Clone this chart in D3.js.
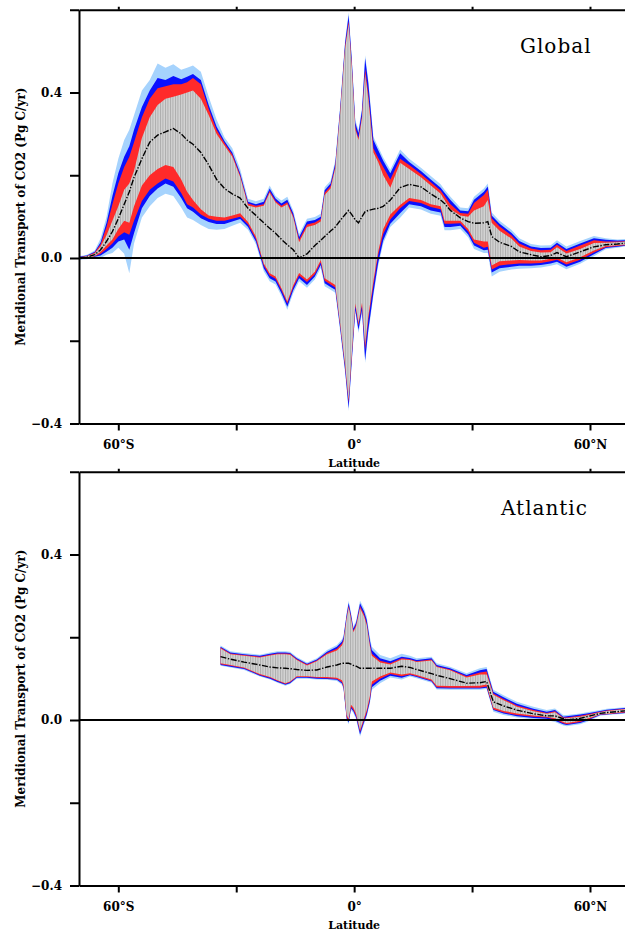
<!DOCTYPE html>
<html>
<head>
<meta charset="utf-8">
<script src="https://cdn.jsdelivr.net/npm/d3@7"></script>
<style>
  body { margin: 0; background: #fff; }
  svg { display: block; }
</style>
</head>
<body>
<svg id="chart" width="625" height="931"></svg>
<script>
// Meridional transport of CO2 (Pg C/yr) against latitude.
// Each panel: nested uncertainty envelopes (sky > blue > red > grey) and the ensemble mean.

// ---------- Global ----------
const globalLat = [-70,-68,-66,-64.5,-63,-61.5,-60,-58.5,-57.2,-56,
  -54,-52,-50,-48,-46,-44,-42.5,-41,-39,-37,
  -35,-33,-31,-29,-27,-25,-23,-21.5,-20,-18.5,
  -17,-15.5,-14,-12,-10,-8.5,-7.5,-6,-4.8,-3.6,
  -2.3,-1.4,-0.6,0.3,1.1,2.0,2.8,3.6,4.9,6.1,
  7.4,9.2,11.7,14,17,19.5,22,23,24.5,27,
  29,30.5,33,34,35,37,40,42,45,47.5,
  50,51.6,54,57.5,61,64,67,70];
const globalMean = [0,0.002,0.008,0.02,0.04,0.064,0.095,0.13,0.16,0.195,
  0.24,0.28,0.297,0.305,0.313,0.3,0.285,0.275,0.255,0.225,
  0.19,0.168,0.155,0.145,0.12,0.103,0.085,0.072,0.06,0.045,
  0.032,0.02,0.0,0.01,0.03,0.043,0.052,0.065,0.075,0.09,
  0.105,0.115,0.105,0.092,0.085,0.1,0.112,0.115,0.118,0.12,
  0.125,0.14,0.17,0.178,0.172,0.155,0.14,0.132,0.115,0.097,
  0.088,0.084,0.085,0.088,0.052,0.038,0.028,0.015,0.008,0.003,
  0.006,0.013,0.003,0.015,0.027,0.032,0.034,0.037];
const globalSkyHi = [0.004,0.008,0.018,0.048,0.1,0.18,0.24,0.285,0.31,0.345,
  0.405,0.43,0.47,0.46,0.468,0.455,0.46,0.465,0.45,0.39,
  0.335,0.292,0.265,0.215,0.143,0.137,0.143,0.175,0.15,0.139,
  0.148,0.115,0.058,0.095,0.099,0.107,0.171,0.187,0.236,0.364,
  0.527,0.594,0.485,0.333,0.31,0.364,0.49,0.43,0.293,0.269,
  0.243,0.213,0.262,0.24,0.218,0.198,0.178,0.165,0.148,0.122,
  0.12,0.148,0.168,0.18,0.11,0.09,0.068,0.048,0.034,0.03,
  0.031,0.043,0.028,0.041,0.053,0.048,0.045,0.046];
const globalBlueHi = [0.003,0.006,0.015,0.038,0.085,0.15,0.205,0.245,0.27,0.31,
  0.365,0.405,0.435,0.43,0.44,0.432,0.438,0.445,0.43,0.37,
  0.318,0.283,0.255,0.205,0.136,0.13,0.136,0.168,0.144,0.132,
  0.141,0.108,0.051,0.088,0.092,0.1,0.164,0.18,0.229,0.357,
  0.52,0.587,0.478,0.326,0.302,0.357,0.483,0.423,0.285,0.261,
  0.235,0.205,0.253,0.232,0.21,0.19,0.17,0.158,0.14,0.115,
  0.113,0.141,0.16,0.173,0.103,0.083,0.061,0.041,0.028,0.024,
  0.025,0.037,0.022,0.035,0.048,0.044,0.042,0.043];
const globalRedHi = [0.002,0.005,0.013,0.033,0.075,0.13,0.18,0.22,0.245,0.28,
  0.34,0.385,0.41,0.415,0.42,0.42,0.425,0.435,0.42,0.36,
  0.31,0.278,0.25,0.2,0.132,0.126,0.13,0.162,0.138,0.126,
  0.135,0.102,0.044,0.081,0.086,0.094,0.158,0.174,0.222,0.35,
  0.512,0.572,0.467,0.316,0.29,0.345,0.457,0.397,0.265,0.242,
  0.22,0.19,0.24,0.225,0.203,0.183,0.163,0.15,0.13,0.109,
  0.107,0.133,0.152,0.165,0.096,0.076,0.055,0.035,0.023,0.019,
  0.02,0.032,0.017,0.03,0.043,0.04,0.04,0.041];
const globalGrayHi = [0.001,0.004,0.011,0.028,0.055,0.09,0.125,0.165,0.18,0.21,
  0.29,0.34,0.37,0.385,0.39,0.395,0.4,0.405,0.385,0.345,
  0.3,0.272,0.245,0.196,0.127,0.122,0.126,0.158,0.134,0.122,
  0.13,0.098,0.038,0.075,0.08,0.088,0.152,0.168,0.217,0.345,
  0.505,0.565,0.46,0.31,0.285,0.338,0.445,0.385,0.255,0.232,
  0.2,0.17,0.23,0.215,0.195,0.175,0.155,0.14,0.118,0.103,
  0.1,0.115,0.125,0.14,0.085,0.066,0.047,0.028,0.017,0.013,
  0.014,0.026,0.011,0.022,0.036,0.037,0.038,0.04];
const globalGrayLo = [-0.001,0.0,0.005,0.015,0.03,0.045,0.07,0.09,0.085,0.125,
  0.175,0.2,0.215,0.225,0.22,0.19,0.16,0.14,0.118,0.103,
  0.1,0.098,0.103,0.108,0.087,0.052,-0.013,-0.037,-0.045,-0.073,
  -0.105,-0.066,-0.036,-0.052,-0.033,-0.005,-0.049,-0.058,-0.065,-0.155,
  -0.256,-0.342,-0.23,-0.11,-0.157,-0.108,-0.21,-0.14,-0.055,0.015,
  0.07,0.105,0.128,0.145,0.14,0.13,0.125,0.09,0.09,0.09,
  0.07,0.045,0.04,0.04,-0.018,-0.008,-0.006,-0.005,-0.006,-0.006,
  -0.002,0.001,-0.01,0.002,0.018,0.029,0.031,0.034];
const globalRedLo = [-0.002,-0.001,0.004,0.01,0.022,0.035,0.052,0.062,0.056,0.09,
  0.138,0.165,0.18,0.192,0.185,0.157,0.13,0.122,0.105,0.095,
  0.09,0.09,0.095,0.1,0.081,0.046,-0.018,-0.042,-0.05,-0.078,
  -0.11,-0.071,-0.042,-0.058,-0.039,-0.011,-0.055,-0.064,-0.071,-0.16,
  -0.263,-0.35,-0.237,-0.116,-0.163,-0.115,-0.222,-0.15,-0.065,0.006,
  0.058,0.093,0.12,0.138,0.133,0.123,0.118,0.083,0.083,0.084,
  0.064,0.037,0.025,0.027,-0.028,-0.018,-0.015,-0.013,-0.013,-0.012,
  -0.008,-0.004,-0.016,-0.004,0.013,0.026,0.029,0.032];
const globalBlueLo = [-0.003,-0.002,0.003,0.006,0.015,0.025,0.04,0.045,0.02,0.06,
  0.12,0.15,0.168,0.18,0.172,0.145,0.12,0.112,0.096,0.087,
  0.082,0.082,0.088,0.094,0.075,0.04,-0.025,-0.049,-0.057,-0.085,
  -0.118,-0.078,-0.049,-0.065,-0.045,-0.017,-0.061,-0.07,-0.077,-0.167,
  -0.271,-0.363,-0.247,-0.126,-0.174,-0.126,-0.247,-0.174,-0.085,-0.012,
  0.043,0.083,0.108,0.13,0.125,0.115,0.11,0.075,0.075,0.078,
  0.057,0.03,0.019,0.02,-0.035,-0.025,-0.021,-0.019,-0.019,-0.017,
  -0.013,-0.009,-0.021,-0.009,0.009,0.024,0.027,0.031];
const globalSkyLo = [-0.004,-0.003,0.001,0.0,0.008,0.012,0.025,0.01,-0.037,0.035,
  0.098,0.125,0.145,0.155,0.15,0.122,0.098,0.092,0.08,0.07,
  0.068,0.07,0.078,0.085,0.068,0.033,-0.032,-0.056,-0.064,-0.092,
  -0.125,-0.085,-0.056,-0.072,-0.052,-0.024,-0.068,-0.077,-0.084,-0.174,
  -0.278,-0.37,-0.254,-0.133,-0.181,-0.133,-0.254,-0.181,-0.092,-0.02,
  0.035,0.075,0.097,0.122,0.117,0.107,0.102,0.067,0.067,0.07,
  0.05,0.022,0.012,0.012,-0.045,-0.033,-0.028,-0.026,-0.025,-0.023,
  -0.019,-0.015,-0.027,-0.014,0.004,0.021,0.025,0.029];

// ---------- Atlantic ----------
const atlLat = [-34,-31.5,-28,-24,-21.4,-19.5,-17.5,-16.3,-14.6,-12,
  -9.5,-6.9,-4.4,-3.1,-2.7,-1.9,-1.4,-0.8,-0.2,0.5,
  1.5,2.5,3.2,4.0,4.5,6.6,9.2,12.1,14.2,15.9,
  19.7,21,24.4,28.6,32,33.7,35.4,38,41.4,45.6,
  49,51.1,53.2,54.1,57.5,59.2,62.6,64.3,68.9,70];
const atlMean = [0.153,0.147,0.14,0.133,0.128,0.126,0.125,0.124,0.122,0.12,
  0.121,0.128,0.133,0.137,0.137,0.137,0.137,0.135,0.132,0.13,
  0.125,0.125,0.125,0.125,0.125,0.125,0.125,0.13,0.127,0.122,
  0.112,0.108,0.1,0.089,0.09,0.093,0.044,0.034,0.024,0.015,
  0.01,0.01,0.003,0.0,0.004,0.008,0.016,0.018,0.022,0.023];
const atlSkyHi = [0.18,0.166,0.162,0.158,0.163,0.166,0.166,0.165,0.152,0.139,
  0.149,0.169,0.181,0.195,0.205,0.26,0.288,0.26,0.226,0.24,
  0.288,0.27,0.25,0.2,0.177,0.157,0.149,0.16,0.155,0.149,
  0.153,0.137,0.129,0.113,0.125,0.128,0.073,0.06,0.044,0.032,
  0.024,0.028,0.012,0.012,0.016,0.019,0.024,0.027,0.031,0.032];
const atlBlueHi = [0.177,0.163,0.159,0.155,0.16,0.163,0.163,0.162,0.149,0.136,
  0.146,0.165,0.177,0.19,0.2,0.255,0.283,0.255,0.221,0.235,
  0.282,0.263,0.242,0.192,0.169,0.149,0.142,0.153,0.15,0.145,
  0.149,0.133,0.125,0.109,0.12,0.123,0.068,0.055,0.039,0.027,
  0.02,0.024,0.008,0.009,0.013,0.016,0.022,0.025,0.029,0.03];
const atlRedHi = [0.175,0.161,0.157,0.153,0.158,0.161,0.161,0.16,0.147,0.134,
  0.144,0.162,0.172,0.185,0.194,0.249,0.276,0.249,0.216,0.23,
  0.275,0.256,0.234,0.183,0.16,0.143,0.137,0.149,0.147,0.142,
  0.146,0.13,0.122,0.106,0.115,0.117,0.064,0.051,0.035,0.024,
  0.017,0.021,0.006,0.006,0.01,0.013,0.02,0.023,0.027,0.028];
const atlGrayHi = [0.173,0.159,0.155,0.151,0.156,0.159,0.159,0.158,0.145,0.132,
  0.142,0.159,0.168,0.18,0.19,0.245,0.272,0.245,0.212,0.226,
  0.27,0.251,0.229,0.178,0.155,0.139,0.134,0.146,0.145,0.14,
  0.144,0.128,0.12,0.103,0.11,0.11,0.061,0.048,0.032,0.021,
  0.015,0.019,0.004,0.004,0.008,0.011,0.019,0.022,0.026,0.027];
const atlGrayLo = [0.137,0.133,0.127,0.111,0.104,0.096,0.089,0.093,0.106,0.106,
  0.104,0.104,0.102,0.096,0.085,0.012,0.003,0.037,0.03,0.015,
  -0.024,0.004,0.024,0.058,0.093,0.105,0.115,0.11,0.113,0.109,
  0.098,0.083,0.082,0.082,0.083,0.086,0.03,0.022,0.016,0.011,
  0.008,0.004,-0.005,-0.007,-0.002,0.003,0.014,0.015,0.02,0.021];
const atlRedLo = [0.135,0.131,0.125,0.109,0.102,0.094,0.087,0.091,0.104,0.104,
  0.102,0.101,0.099,0.091,0.08,0.007,-0.002,0.032,0.025,0.01,
  -0.029,-0.001,0.018,0.05,0.085,0.1,0.111,0.106,0.11,0.106,
  0.095,0.079,0.078,0.078,0.078,0.081,0.026,0.018,0.012,0.008,
  0.006,0.001,-0.008,-0.01,-0.005,0.0,0.013,0.014,0.018,0.019];
const atlBlueLo = [0.133,0.129,0.123,0.107,0.1,0.092,0.085,0.089,0.102,0.102,
  0.1,0.099,0.097,0.088,0.077,0.003,-0.006,0.028,0.021,0.006,
  -0.035,-0.006,0.012,0.045,0.079,0.095,0.107,0.102,0.108,0.104,
  0.093,0.077,0.076,0.076,0.076,0.078,0.024,0.016,0.009,0.005,
  0.003,-0.002,-0.01,-0.012,-0.007,-0.002,0.012,0.013,0.017,0.018];
const atlSkyLo = [0.131,0.127,0.121,0.105,0.098,0.09,0.083,0.087,0.1,0.1,
  0.098,0.097,0.094,0.085,0.073,0.0,-0.01,0.024,0.017,0.002,
  -0.04,-0.01,0.008,0.04,0.073,0.089,0.103,0.098,0.105,0.101,
  0.09,0.074,0.073,0.073,0.073,0.075,0.02,0.012,0.006,0.002,
  0.0,-0.005,-0.013,-0.015,-0.01,-0.005,0.01,0.012,0.015,0.016];

// ---------- Axes ----------
const latTicks = [-60, -30, 0, 30, 60];
const latTickLabels = ["60°S", "", "0°", "", "60°N"];
const valueTicks = [-0.4, -0.2, 0, 0.2, 0.4, 0.6];
const valueTickLabels = ["−0.4", "", "0.0", "", "0.4", ""];

const COLORS = { sky: "#a6d3fd", blue: "#0a10ff", red: "#ff2a2a" };
const FONT = "'DejaVu Serif', serif";

const svg = d3.select("#chart");
const defs = svg.append("defs");

// grey fill with fine vertical hatching
const hatch = defs.append("pattern")
  .attr("id", "hatch").attr("patternUnits", "userSpaceOnUse")
  .attr("width", 2.5).attr("height", 10);
hatch.append("rect").attr("width", 2.5).attr("height", 10).attr("fill", "#d2d2d2");
hatch.append("rect").attr("width", 0.9).attr("height", 10).attr("fill", "#ababab");

const x = d3.scaleLinear().domain([-70, 70]).range([79, 629.3]);

const panels = [
  { id: "g", title: "Global", top: 9.75, bottom: 423.5, titleX: 520,
    lat: globalLat, mean: globalMean,
    skyHi: globalSkyHi, blueHi: globalBlueHi, redHi: globalRedHi, grayHi: globalGrayHi,
    grayLo: globalGrayLo, redLo: globalRedLo, blueLo: globalBlueLo, skyLo: globalSkyLo },
  { id: "a", title: "Atlantic", top: 471.75, bottom: 885.5, titleX: 501,
    lat: atlLat, mean: atlMean,
    skyHi: atlSkyHi, blueHi: atlBlueHi, redHi: atlRedHi, grayHi: atlGrayHi,
    grayLo: atlGrayLo, redLo: atlRedLo, blueLo: atlBlueLo, skyLo: atlSkyLo }
];

panels.forEach(p => {
  const y = d3.scaleLinear().domain([-0.4, 0.6]).range([p.bottom, p.top]);
  const rows = p.lat.map((lat, k) => ({
    lat, mean: p.mean[k],
    skyHi: p.skyHi[k], blueHi: p.blueHi[k], redHi: p.redHi[k], grayHi: p.grayHi[k],
    grayLo: p.grayLo[k], redLo: p.redLo[k], blueLo: p.blueLo[k], skyLo: p.skyLo[k]
  }));

  defs.append("clipPath").attr("id", "clip-" + p.id)
    .append("rect")
    .attr("x", x.range()[0]).attr("y", p.top)
    .attr("width", x.range()[1] - x.range()[0]).attr("height", p.bottom - p.top);

  const plot = svg.append("g").attr("clip-path", `url(#clip-${p.id})`);

  const band = (lo, hi) => d3.area()
    .x(d => x(d.lat)).y0(d => y(d[lo])).y1(d => y(d[hi]));

  plot.append("path").datum(rows).attr("d", band("skyLo", "skyHi")).attr("fill", COLORS.sky);
  plot.append("path").datum(rows).attr("d", band("blueLo", "blueHi")).attr("fill", COLORS.blue);
  plot.append("path").datum(rows).attr("d", band("redLo", "redHi")).attr("fill", COLORS.red);
  plot.append("path").datum(rows).attr("d", band("grayLo", "grayHi")).attr("fill", "url(#hatch)");

  // zero reference line
  plot.append("line")
    .attr("x1", x.range()[0]).attr("x2", x.range()[1])
    .attr("y1", y(0)).attr("y2", y(0))
    .attr("stroke", "#000").attr("stroke-width", 2);

  // ensemble mean, dash-dot
  plot.append("path").datum(rows)
    .attr("d", d3.line().x(d => x(d.lat)).y(d => y(d.mean)))
    .attr("fill", "none").attr("stroke", "#000").attr("stroke-width", 1.4)
    .attr("stroke-dasharray", "6 1.6 1.4 1.6");

  // left axis
  const left = svg.append("g").attr("transform", `translate(${x.range()[0]},0)`)
    .call(d3.axisLeft(y).tickValues(valueTicks).tickSize(9).tickSizeOuter(0).tickPadding(8)
      .tickFormat((v, i) => valueTickLabels[i]));
  // bottom axis
  const bottom = svg.append("g").attr("transform", `translate(0,${p.bottom})`)
    .call(d3.axisBottom(x).tickValues(latTicks).tickSize(7).tickSizeOuter(0).tickPadding(10)
      .tickFormat((v, i) => latTickLabels[i]));
  // top border
  const topAx = svg.append("g").attr("transform", `translate(0,${p.top})`)
    .call(d3.axisTop(x).tickValues(latTicks).tickSize(3).tickSizeOuter(0).tickFormat(() => ""));

  [left, bottom, topAx].forEach(a => {
    a.selectAll(".domain").attr("stroke-width", 2);
    a.selectAll(".tick line").attr("stroke-width", 2);
    a.selectAll("text")
      .attr("font-family", FONT).attr("font-weight", "bold")
      .attr("font-size", 12).attr("fill", "#000");
  });

  // axis titles
  svg.append("text")
    .attr("x", x(0)).attr("y", p.bottom + 43)
    .attr("text-anchor", "middle")
    .attr("font-family", FONT).attr("font-weight", "bold").attr("font-size", 11)
    .text("Latitude");

  svg.append("text")
    .attr("transform", `translate(24.5,${(p.top + p.bottom) / 2}) rotate(-90)`)
    .attr("text-anchor", "middle")
    .attr("font-family", FONT).attr("font-weight", "bold").attr("font-size", 12)
    .text("Meridional Transport of CO2 (Pg C/yr)");

  // panel title
  svg.append("text")
    .attr("x", p.titleX).attr("y", p.top + 43)
    .attr("font-family", FONT).attr("font-size", 20).attr("letter-spacing", 1)
    .text(p.title);
});
</script>
</body>
</html>
